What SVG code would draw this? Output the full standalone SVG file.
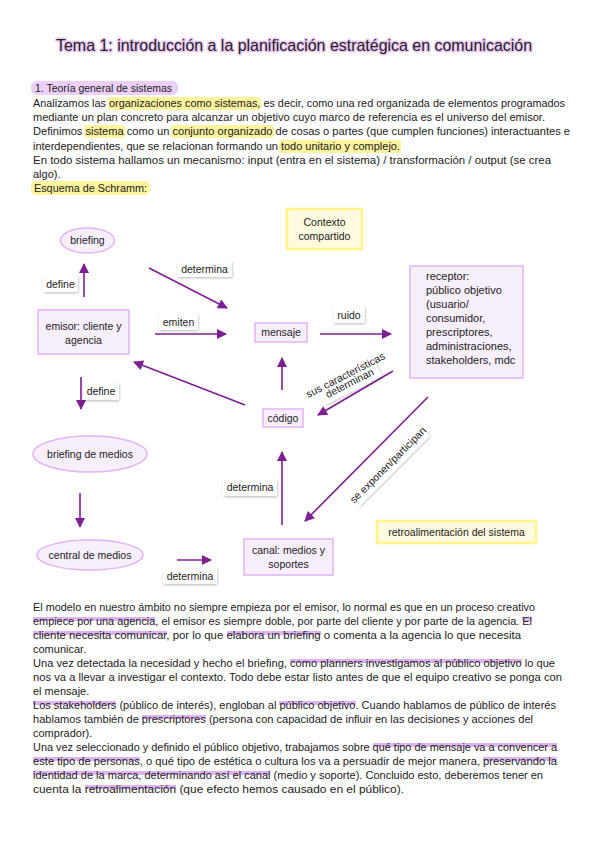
<svg xmlns="http://www.w3.org/2000/svg" width="599" height="848" viewBox="0 0 599 848">
<style>
text{font-family:"Liberation Sans",Arial,sans-serif;fill:#222}
.t{font-size:11px}
.lb{font-size:10.5px;text-anchor:middle}
.node{fill:#f8effd;stroke:#e2b4f6;stroke-width:1.5}
.yel{fill:#fffbe0;stroke:#fdf48a;stroke-width:2.5}
.lab{fill:#fff;filter:url(#sh)}
.ar{stroke:#7d1f93;stroke-width:1.6;fill:none;marker-end:url(#ah)}
.hp{fill:#d7a6ee;opacity:.85}
.hy{fill:#fdf49e}
</style>
<defs>
<filter id="sh" x="-20%" y="-30%" width="140%" height="170%">
<feDropShadow dx="0.6" dy="1.2" stdDeviation="1" flood-color="#000" flood-opacity="0.25"/>
</filter>
<marker id="ah" viewBox="0 0 10 10" refX="9" refY="5" markerWidth="11" markerHeight="10" markerUnits="userSpaceOnUse" orient="auto">
<path d="M0,0 L10,5 L0,10 z" fill="#7d1f93"/>
</marker>
</defs>
<rect width="599" height="848" fill="#fff"/>

<g id="title">
<text x="294" y="51" font-size="17" text-anchor="middle" textLength="476" lengthAdjust="spacingAndGlyphs" stroke="#ecc9f8" stroke-width="3" paint-order="stroke" stroke-linejoin="round">Tema 1: introducción a la planificación estratégica en comunicación</text>
</g>

<g id="intro">
<rect x="31" y="81" width="147" height="14" rx="6" fill="#ecd0f9"/>
<text class="t" x="35" y="92" textLength="137" lengthAdjust="spacingAndGlyphs">1. Teoría general de sistemas</text>
<rect class="hy" x="108" y="97" width="153" height="13" rx="3"/>
<rect class="hy" x="84" y="125" width="41" height="13" rx="3"/>
<rect class="hy" x="171" y="125" width="103" height="13" rx="3"/>
<rect class="hy" x="279" y="140" width="122" height="13" rx="3"/>
<text class="t" x="33" y="107" textLength="532" lengthAdjust="spacingAndGlyphs">Analizamos las organizaciones como sistemas, es decir, como una red organizada de elementos programados</text>
<text class="t" x="33" y="121" textLength="512" lengthAdjust="spacingAndGlyphs">mediante un plan concreto para alcanzar un objetivo cuyo marco de referencia es el universo del emisor.</text>
<text class="t" x="33" y="135" textLength="537" lengthAdjust="spacingAndGlyphs">Definimos sistema como un conjunto organizado de cosas o partes (que cumplen funciones) interactuantes e</text>
<text class="t" x="33" y="150" textLength="367" lengthAdjust="spacingAndGlyphs">interdependientes, que se relacionan formando un todo unitario y complejo.</text>
<text class="t" x="33" y="164" textLength="518" lengthAdjust="spacingAndGlyphs">En todo sistema hallamos un mecanismo: input (entra en el sistema) / transformación / output (se crea</text>
<text class="t" x="33" y="178">algo).</text>
<rect class="hy" x="31" y="181" width="119" height="14" rx="5"/>
<text class="t" x="34" y="192" textLength="113" lengthAdjust="spacingAndGlyphs">Esquema de Schramm:</text>
</g>

<g id="connectors">
<line class="ar" x1="84" y1="297" x2="84" y2="264"/>
<line class="ar" x1="149" y1="268" x2="227" y2="308"/>
<line class="ar" x1="155" y1="334" x2="226" y2="334"/>
<line class="ar" x1="320" y1="334" x2="391" y2="334"/>
<line class="ar" x1="282" y1="390" x2="282" y2="358"/>
<line class="ar" x1="245" y1="405" x2="134" y2="362"/>
<line class="ar" x1="393" y1="371" x2="318" y2="415"/>
<line class="ar" x1="428" y1="397" x2="305" y2="521"/>
<line class="ar" x1="282" y1="525" x2="282" y2="452"/>
<line class="ar" x1="81" y1="377" x2="81" y2="409"/>
<line class="ar" x1="80" y1="493" x2="80" y2="527"/>
<line class="ar" x1="177" y1="560" x2="211" y2="560"/>
</g>

<g id="labels">
<g id="lbl-define1"><rect class="lab" x="43" y="275" width="35" height="17" rx="2"/><text class="lb" x="60.5" y="287.5">define</text></g>
<g id="lbl-determina1"><rect class="lab" x="177" y="260" width="55" height="17" rx="2"/><text class="lb" x="204.5" y="272.5">determina</text></g>
<g id="lbl-emiten"><rect class="lab" x="159" y="313" width="39" height="17" rx="2"/><text class="lb" x="178.5" y="325.5">emiten</text></g>
<g id="lbl-ruido"><rect class="lab" x="333" y="306" width="32" height="17" rx="2"/><text class="lb" x="349" y="318.5">ruido</text></g>
<g id="lbl-sus" transform="translate(348,380) rotate(-27)"><rect class="lab" x="-32" y="-12" width="64" height="24" rx="2"/><text class="lb" x="0" y="-2" font-size="7">sus características</text><text class="lb" x="0" y="7" font-size="7">determinan</text></g>
<g id="lbl-exponen" transform="translate(388,465) rotate(-45)"><rect class="lab" x="-50" y="-9" width="100" height="18" rx="2"/><text class="lb" x="0" y="3.5">se exponen/participan</text></g>
<g id="lbl-determina2"><rect class="lab" x="223" y="478" width="54" height="18" rx="2"/><text class="lb" x="250" y="491">determina</text></g>
<g id="lbl-define2"><rect class="lab" x="83" y="382" width="36" height="18" rx="2"/><text class="lb" x="101" y="395">define</text></g>
<g id="lbl-determina3"><rect class="lab" x="163" y="567" width="54" height="17" rx="2"/><text class="lb" x="190" y="579.5">determina</text></g>
</g>

<g id="briefing"><ellipse class="node" cx="87.5" cy="240.5" rx="27" ry="12.5"/><text class="lb" x="87.5" y="244">briefing</text></g>
<g id="emisor"><rect class="node" x="38" y="310" width="91" height="44"/><text class="lb" x="83.5" y="330">emisor: cliente y</text><text class="lb" x="83.5" y="344">agencia</text></g>
<g id="mensaje"><rect class="node" x="255" y="323" width="52" height="19"/><text class="lb" x="281" y="336">mensaje</text></g>
<g id="contexto"><rect class="yel" x="287" y="209" width="75" height="40"/><text class="lb" x="324.5" y="226">Contexto</text><text class="lb" x="324.5" y="240">compartido</text></g>
<g id="receptor"><rect class="node" x="410" y="266" width="113" height="112"/>
<text class="t" x="426" y="280">receptor:</text>
<text class="t" x="426" y="294">público objetivo</text>
<text class="t" x="426" y="308">(usuario/</text>
<text class="t" x="426" y="322">consumidor,</text>
<text class="t" x="426" y="336">prescriptores,</text>
<text class="t" x="426" y="350">administraciones,</text>
<text class="t" x="426" y="364">stakeholders, mdc</text>
</g>
<g id="codigo"><rect class="node" x="263" y="409" width="40" height="18"/><text class="lb" x="283" y="422">código</text></g>
<g id="retro"><rect class="yel" x="377" y="521" width="159" height="22"/><text class="lb" x="456.5" y="536">retroalimentación del sistema</text></g>
<g id="canal"><rect class="node" x="244" y="539" width="89" height="36"/><text class="lb" x="288.5" y="554">canal: medios y</text><text class="lb" x="288.5" y="568">soportes</text></g>
<g id="briefing-medios"><ellipse class="node" cx="90" cy="454" rx="57" ry="18"/><text class="lb" x="90" y="458">briefing de medios</text></g>
<g id="central-medios"><ellipse class="node" cx="90" cy="555" rx="53" ry="15"/><text class="lb" x="90" y="559">central de medios</text></g>

<g id="body">
<rect class="hp" x="33" y="617" width="122" height="4"/>
<rect class="hp" x="522" y="617" width="10" height="4"/>
<rect class="hp" x="33" y="631" width="134" height="4"/>
<rect class="hp" x="227" y="631" width="94" height="4"/>
<rect class="hp" x="290" y="659" width="232" height="4"/>
<rect class="hp" x="33" y="701" width="83" height="4"/>
<rect class="hp" x="279" y="701" width="77" height="4"/>
<rect class="hp" x="142" y="715" width="64" height="4"/>
<rect class="hp" x="373" y="743" width="184" height="4"/>
<rect class="hp" x="33" y="757" width="107" height="4"/>
<rect class="hp" x="483" y="757" width="74" height="4"/>
<rect class="hp" x="33" y="771" width="237" height="4"/>
<rect class="hp" x="85" y="785" width="91" height="4"/>
<text class="t" x="33" y="611" textLength="502" lengthAdjust="spacingAndGlyphs">El modelo en nuestro ámbito no siempre empieza por el emisor, lo normal es que en un proceso creativo</text>
<text class="t" x="33" y="625" textLength="499" lengthAdjust="spacingAndGlyphs">empiece por una agencia, el emisor es siempre doble, por parte del cliente y por parte de la agencia. El</text>
<text class="t" x="33" y="639" textLength="488" lengthAdjust="spacingAndGlyphs">cliente necesita comunicar, por lo que elabora un briefing o comenta a la agencia lo que necesita</text>
<text class="t" x="33" y="653">comunicar.</text>
<text class="t" x="33" y="667" textLength="522" lengthAdjust="spacingAndGlyphs">Una vez detectada la necesidad y hecho el briefing, como planners investigamos al público objetivo lo que</text>
<text class="t" x="33" y="681" textLength="529" lengthAdjust="spacingAndGlyphs">nos va a llevar a investigar el contexto. Todo debe estar listo antes de que el equipo creativo se ponga con</text>
<text class="t" x="33" y="695">el mensaje.</text>
<text class="t" x="33" y="709" textLength="523" lengthAdjust="spacingAndGlyphs">Los stakeholders (público de interés), engloban al público objetivo. Cuando hablamos de público de interés</text>
<text class="t" x="33" y="723" textLength="500" lengthAdjust="spacingAndGlyphs">hablamos también de prescriptores (persona con capacidad de influir en las decisiones y acciones del</text>
<text class="t" x="33" y="737">comprador).</text>
<text class="t" x="33" y="751" textLength="524" lengthAdjust="spacingAndGlyphs">Una vez seleccionado y definido el público objetivo, trabajamos sobre qué tipo de mensaje va a convencer a</text>
<text class="t" x="33" y="765" textLength="524" lengthAdjust="spacingAndGlyphs">este tipo de personas, o qué tipo de estética o cultura los va a persuadir de mejor manera, preservando la</text>
<text class="t" x="33" y="779" textLength="510" lengthAdjust="spacingAndGlyphs">identidad de la marca, determinando así el canal (medio y soporte). Concluido esto, deberemos tener en</text>
<text class="t" x="33" y="793" textLength="371" lengthAdjust="spacingAndGlyphs">cuenta la retroalimentación (que efecto hemos causado en el público).</text>
</g>
</svg>
